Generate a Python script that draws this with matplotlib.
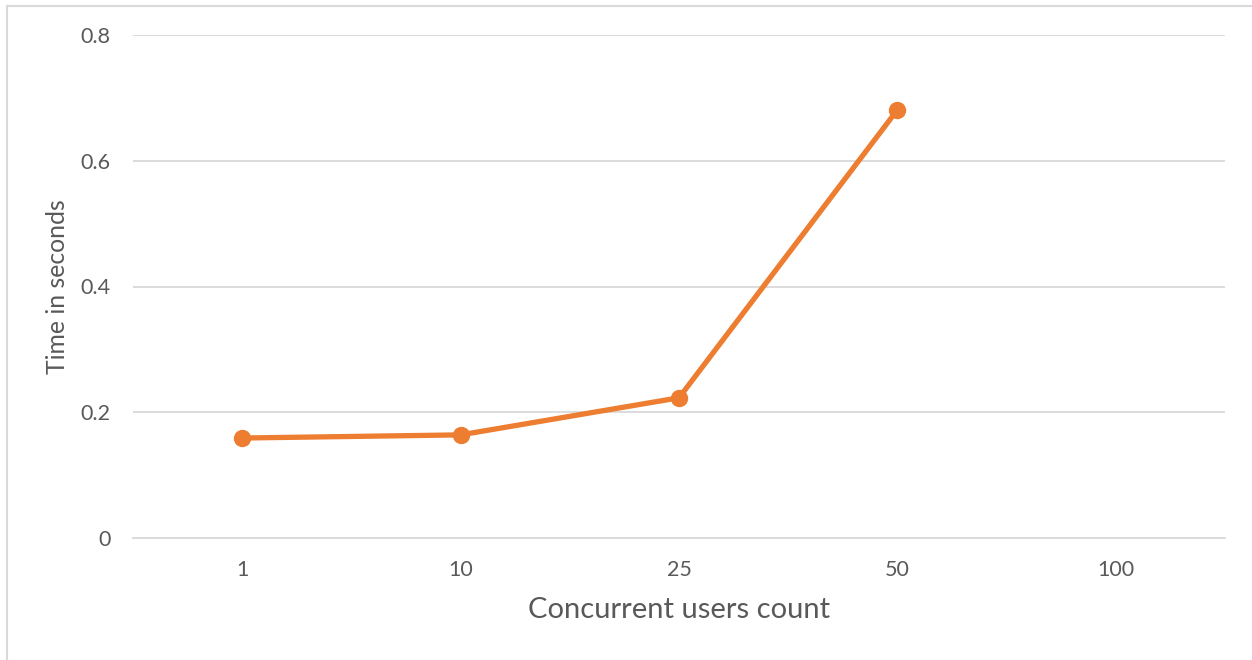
import matplotlib
matplotlib.use("Agg")
import matplotlib.pyplot as plt
from matplotlib.lines import Line2D

# Response time per concurrent-user level (no measurement for 100 users)
users = ["1", "10", "25", "50", "100"]
response_time = [0.159, 0.164, 0.223, 0.681, None]
y_ticks = [0, 0.2, 0.4, 0.6, 0.8]
y_tick_labels = ["0", "0.2", "0.4", "0.6", "0.8"]

plt.rcParams["font.family"] = ["Lato", "DejaVu Sans"]

TEXT = "#595959"
GRID = "#D9D9D9"
ORANGE = "#ED7D31"

fig = plt.figure(figsize=(12.52, 6.6), dpi=100)
ax = fig.add_axes([133 / 1252, 122 / 660, (1225 - 133) / 1252, (625 - 122) / 660])

xs = [i for i, v in enumerate(response_time) if v is not None]
ys = [v for v in response_time if v is not None]
ax.plot(xs, ys, color=ORANGE, linewidth=3.8, marker="o", markersize=11.5,
        solid_capstyle="round", zorder=3)

ax.set_xlim(-0.5, len(users) - 0.5)
ax.set_ylim(0, 0.8)
ax.set_xticks(range(len(users)))
ax.set_xticklabels(users)
ax.set_yticks(y_ticks)
ax.set_yticklabels(y_tick_labels)

ax.grid(axis="y", color=GRID, linewidth=1.3)
ax.set_axisbelow(True)
for side in ["top", "right", "left"]:
    ax.spines[side].set_visible(False)
ax.spines["bottom"].set_color(GRID)
ax.spines["bottom"].set_linewidth(1.3)
ax.spines["bottom"].set_zorder(0)
ax.tick_params(axis="both", length=0, colors=TEXT, labelsize=15.5)
ax.tick_params(axis="y", pad=16)
ax.tick_params(axis="x", pad=16)

ax.set_xlabel("Concurrent users count", color=TEXT, fontsize=21)
ax.xaxis.label.set_verticalalignment("center")
ax.xaxis.set_label_coords(0.5, -0.143)

ax.set_ylabel("Time in seconds", color=TEXT, fontsize=17.8)
ax.yaxis.label.set_verticalalignment("center")
ax.yaxis.set_label_coords(-0.0687, 0.5)

# Chart frame (left and top edges visible)
fig.add_artist(Line2D([7 / 1252, 7 / 1252], [0, 1 - 6 / 660],
                      transform=fig.transFigure, color=GRID, linewidth=1.5))
fig.add_artist(Line2D([7 / 1252, 1], [1 - 6 / 660, 1 - 6 / 660],
                      transform=fig.transFigure, color=GRID, linewidth=1.5))

fig.savefig("out.png", dpi=100, facecolor="white")
